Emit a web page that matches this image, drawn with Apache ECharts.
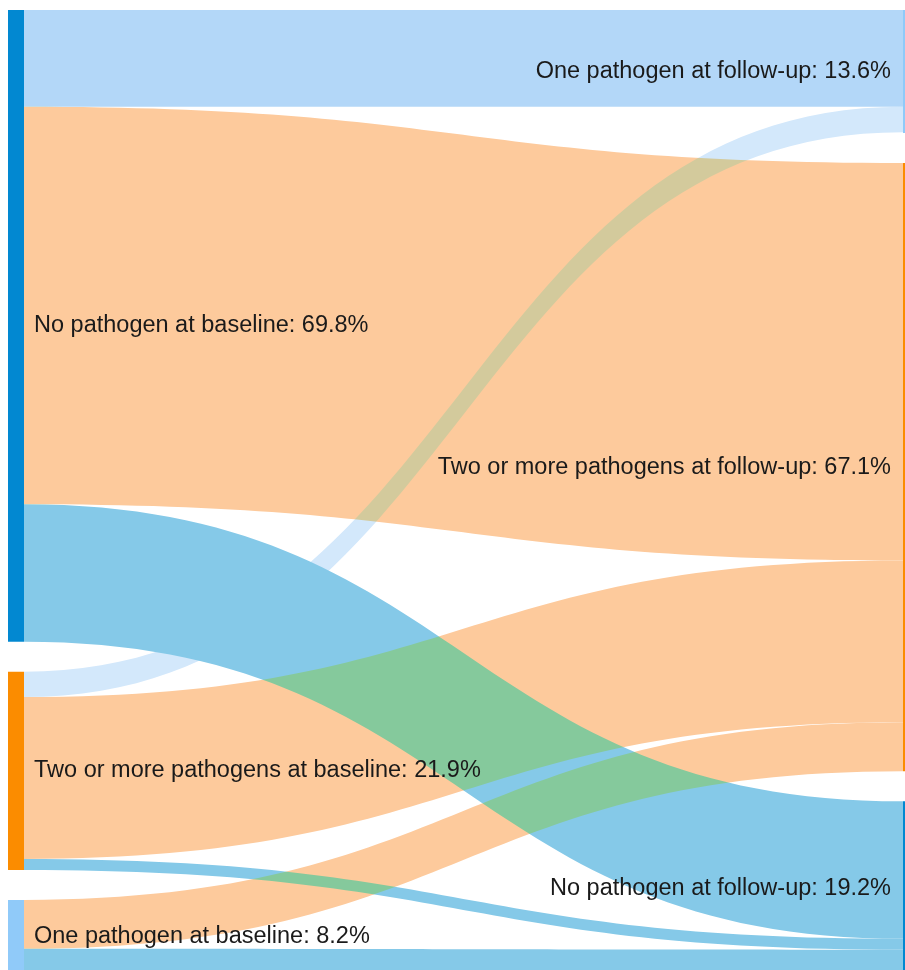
<!DOCTYPE html>
<html>
<head>
<meta charset="utf-8">
<script src="https://cdn.jsdelivr.net/npm/echarts@6/dist/echarts.min.js"></script>
<style>
  html, body { margin: 0; padding: 0; background: #ffffff; }
  #chart { width: 905px; height: 970px; }
</style>
</head>
<body>
<div id="chart"></div>
<script>
// ---- data ----
const sourceNames = ['No pathogen at baseline', 'Two or more pathogens at baseline', 'One pathogen at baseline'];
const targetNames = ['One pathogen at follow-up', 'Two or more pathogens at follow-up', 'No pathogen at follow-up'];
const sourceShares = [69.8, 21.9, 8.2];
const targetShares = [13.6, 67.1, 19.2];
// flows[source][target], in % of all (null = no visible band)
const flowNoBaseline = [10.7, 43.9, 15.2];
const flowTwoBaseline = [2.8, 17.9, 1.2];
const flowOneBaseline = [null, 5.4, 2.8];
const flows = [flowNoBaseline, flowTwoBaseline, flowOneBaseline];

// ---- styling ----
const sourceColors = ['#0288d1', '#fb8c00', '#90caf9'];
const targetColors = ['#90caf9', '#fb8c00', '#0288d1'];
const linkColors = [
  ['#b3d7f8', '#fdca9c', '#85c9e8'],
  ['#d3e8fb', '#fdca9c', '#85c9e8'],
  ['#d3e8fb', '#fdca9c', '#85c9e8']
];

const labelFont = { fontFamily: '"Liberation Sans", Arial, sans-serif', fontSize: 23.5, color: '#1a1a1a' };

const nodes = [];
sourceNames.forEach((n, i) => {
  nodes.push({
    name: n,
    value: sourceShares[i],
    itemStyle: { color: sourceColors[i], borderWidth: 0 },
    label: Object.assign({ position: 'right', distance: 10,
      formatter: n + ': ' + sourceShares[i].toFixed(1) + '%' }, labelFont)
  });
});
targetNames.forEach((n, j) => {
  nodes.push({
    name: n,
    value: targetShares[j],
    itemStyle: { color: targetColors[j], borderWidth: 0 },
    label: Object.assign({ position: 'left', distance: 12,
      formatter: n + ': ' + targetShares[j].toFixed(1) + '%' }, labelFont)
  });
});

const links = [];
flows.forEach((row, i) => {
  row.forEach((v, j) => {
    if (v == null) return;
    links.push({
      source: sourceNames[i],
      target: targetNames[j],
      value: v,
      lineStyle: { color: linkColors[i][j], opacity: 1 }
    });
  });
});

const chart = echarts.init(document.getElementById('chart'), null, { renderer: 'canvas' });
chart.setOption({
  animation: false,
  series: [{
    type: 'sankey',
    left: 8,
    right: -14,
    top: 10,
    bottom: -5,
    nodeWidth: 16,
    nodeGap: 30,
    layoutIterations: 0,
    draggable: false,
    blendMode: 'darken',
    emphasis: { disabled: true },
    lineStyle: { curveness: 0.5, opacity: 1 },
    data: nodes,
    links: links
  }]
});
</script>
</body>
</html>
